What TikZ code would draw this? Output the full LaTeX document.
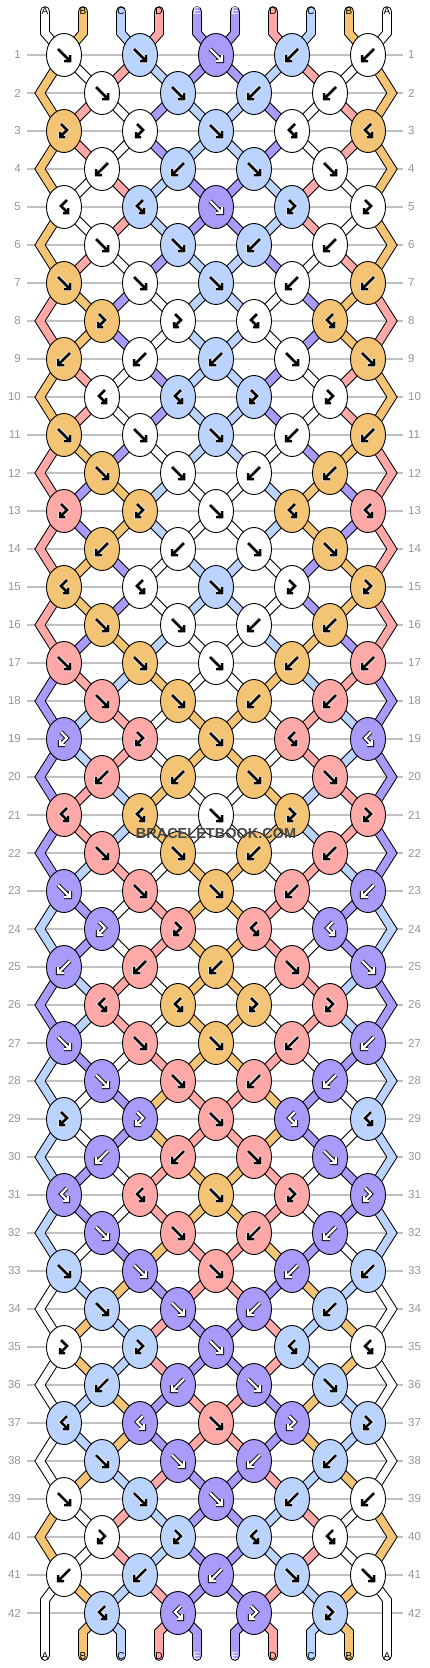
\documentclass[tikz,border=0pt]{standalone}
\usepackage{fontspec}
\setmainfont{Liberation Sans}
\usetikzlibrary{shapes.geometric}

\definecolor{cA}{RGB}{255,255,255}
\definecolor{cB}{RGB}{243,196,115}
\definecolor{cC}{RGB}{187,212,255}
\definecolor{cD}{RGB}{255,168,168}
\definecolor{cE}{RGB}{168,155,250}
\definecolor{gridgray}{RGB}{192,192,192}
\definecolor{numgray}{RGB}{150,150,150}

\pgfdeclarelayer{grid}
\pgfdeclarelayer{strands}
\pgfsetlayers{grid,strands,main}

\tikzset{
  knot/.style={ellipse, draw, line width=0.9pt, minimum width=35pt, minimum height=43pt, inner sep=0pt},
  strand/.style={double=#1, double distance=7.6pt, line width=1pt, line join=miter, line cap=round},
  rowline/.style={draw=gridgray, line width=1.2pt},
  rownum/.style={text=numgray, inner sep=0pt, font=\fontsize{11.5}{12}\selectfont},
  tag/.style={inner sep=0pt, font=\fontsize{10}{10}\selectfont},
  watermark/.style={inner sep=0pt, text=black!72, font=\bfseries\fontsize{14.5}{15}\selectfont},
  glyphlight/.style={draw=black, line width=2.5pt, line join=miter,
    preaction={draw=white, line width=4pt, line join=miter}},
  glyphdark/.style={draw=white, line width=2.2pt, line join=miter,
    preaction={draw=black, line width=4.2pt, line join=miter}},
  % glyph coordinates point upwards: pics do not take the picture's yscale
  pics/gF/.style={code={\draw[#1] (-6,6) -- (6,-6) (6,0) -- (6,-6) -- (0,-6);}},
  pics/gB/.style={code={\draw[#1] (6,6) -- (-6,-6) (-6,0) -- (-6,-6) -- (0,-6);}},
  pics/gX/.style={code={\draw[#1] (-3,7) -- (3,1) -- (-4,-6) (-4,-1) -- (-4,-6) -- (1,-6);}},
  pics/gY/.style={code={\draw[#1] (3,7) -- (-3,1) -- (4,-6) (4,-1) -- (4,-6) -- (-1,-6);}},
}

% swap the two strings of the current knot
\newcommand\swapstrings{%
  \expandafter\xdef\csname st\lp\endcsname{\Rs}%
  \expandafter\xdef\csname st\rp\endcsname{\Ls}}

\begin{document}
\begin{tikzpicture}[x=1pt,y=1pt,yscale=-1]
\useasboundingbox (0,0) rectangle (430,1668);
\begin{pgfonlayer}{grid}
  \fill[white] (0,0) rectangle (430,1668);
\end{pgfonlayer}

% strings at the top
\foreach \i/\s in {1/A,2/B,3/C,4/D,5/E,6/E,7/D,8/C,9/B,10/A}{
  \pgfmathsetmacro\xx{7+38*\i}
  \if\s E\def\tc{white}\else\def\tc{black}\fi
  \node[tag, text=\tc] (lt-\i) at (\xx,11) {\s};
  \coordinate (u-\i) at (\xx,33);
  \expandafter\xdef\csname st\i\endcsname{\s}
  \expandafter\xdef\csname pa\i\endcsname{(lt-\i.center) -- (u-\i)}
}

% knots, row by row (F forward, B backward, X forward-backward, Y backward-forward)
\foreach \r/\types in {
  1/{F,F,F,B,B}, 2/{F,F,B,B}, 3/{X,X,F,Y,Y}, 4/{B,B,F,F}, 5/{Y,Y,F,X,X}, 6/{F,F,B,B},
  7/{F,F,F,B,B}, 8/{X,X,Y,Y}, 9/{B,B,B,F,F}, 10/{Y,Y,X,X}, 11/{F,F,F,B,B}, 12/{F,F,B,B},
  13/{X,X,F,Y,Y}, 14/{B,B,F,F}, 15/{Y,Y,F,X,X}, 16/{F,F,B,B}, 17/{F,F,F,B,B}, 18/{F,F,B,B},
  19/{X,X,F,Y,Y}, 20/{B,B,F,F}, 21/{Y,Y,F,X,X}, 22/{F,F,B,B}, 23/{F,F,F,B,B}, 24/{X,X,Y,Y},
  25/{B,B,B,F,F}, 26/{Y,Y,X,X}, 27/{F,F,F,B,B}, 28/{F,F,B,B}, 29/{X,X,F,Y,Y}, 30/{B,B,F,F},
  31/{Y,Y,F,X,X}, 32/{F,F,B,B}, 33/{F,F,F,B,B}, 34/{F,F,B,B}, 35/{X,X,F,Y,Y}, 36/{B,B,F,F},
  37/{Y,Y,F,X,X}, 38/{F,F,B,B}, 39/{F,F,F,B,B}, 40/{X,X,Y,Y}, 41/{B,B,B,F,F}, 42/{Y,Y,X,X}}{
  \pgfmathtruncatemacro\odd{mod(\r,2)}
  \pgfmathsetmacro\yy{17+38*\r}
  \node[rownum, anchor=east] (rl-\r) at (21,\yy) {\r};
  \node[rownum, anchor=west] (rr-\r) at (408,\yy) {\r};
  \begin{pgfonlayer}{grid}
    \draw[rowline] ([xshift=6pt]rl-\r.east) -- ([xshift=-5pt]rr-\r.west);
  \end{pgfonlayer}
  \foreach \t [count=\k] in \types {
    \ifnum\odd=1 \pgfmathtruncatemacro\lp{2*\k-1}\else\pgfmathtruncatemacro\lp{2*\k}\fi
    \pgfmathtruncatemacro\rp{\lp+1}
    \pgfmathsetmacro\xx{26+38*\lp}
    \edef\Ls{\csname st\lp\endcsname}
    \edef\Rs{\csname st\rp\endcsname}
    \if\t F\edef\K{\Ls}\else\if\t X\edef\K{\Ls}\else\edef\K{\Rs}\fi\fi
    \if\K E\def\gs{glyphdark}\else\def\gs{glyphlight}\fi
    \node[knot, fill=c\K] (n-\r-\k) at (\xx,\yy) {};
    \edef\tmp{\noexpand\pic at (n-\r-\k) {g\t=\gs};}\tmp
    \begin{pgfonlayer}{strands}
      \edef\tmp{\noexpand\draw[strand=c\Ls] \csname pa\lp\endcsname -- (n-\r-\k.center);
        \noexpand\draw[strand=c\Rs] \csname pa\rp\endcsname -- (n-\r-\k.center);}\tmp
    \end{pgfonlayer}
    \expandafter\xdef\csname pa\lp\endcsname{(n-\r-\k.center)}
    \expandafter\xdef\csname pa\rp\endcsname{(n-\r-\k.center)}
    \if\t F\swapstrings\fi
    \if\t B\swapstrings\fi
  }
  % edge strings bend outwards on even rows
  \ifnum\odd=0 \ifnum\r<42
    \coordinate (e-\r-l) at (40,\yy);
    \coordinate (e-\r-r) at (392,\yy);
    \expandafter\xdef\csname pa1\endcsname{\csname pa1\endcsname -- (e-\r-l)}
    \expandafter\xdef\csname pa10\endcsname{\csname pa10\endcsname -- (e-\r-r)}
  \fi\fi
}

% strings at the bottom
\foreach \i in {1,...,10}{
  \pgfmathsetmacro\xx{7+38*\i}
  \ifnum\i=1 \def\vy{1600}\else\ifnum\i=10 \def\vy{1600}\else\def\vy{1632}\fi\fi
  \edef\s{\csname st\i\endcsname}
  \if\s E\def\tc{white}\else\def\tc{black}\fi
  \node[tag, text=\tc] (lb-\i) at (\xx,1656) {\s};
  \coordinate (v-\i) at (\xx,\vy);
  \begin{pgfonlayer}{strands}
    \edef\tmp{\noexpand\draw[strand=c\s] \csname pa\i\endcsname -- (v-\i) -- (lb-\i.center);}\tmp
  \end{pgfonlayer}
}

\node[watermark] (wm) at (216,833) {BRACELETBOOK.COM};
\end{tikzpicture}
\end{document}
